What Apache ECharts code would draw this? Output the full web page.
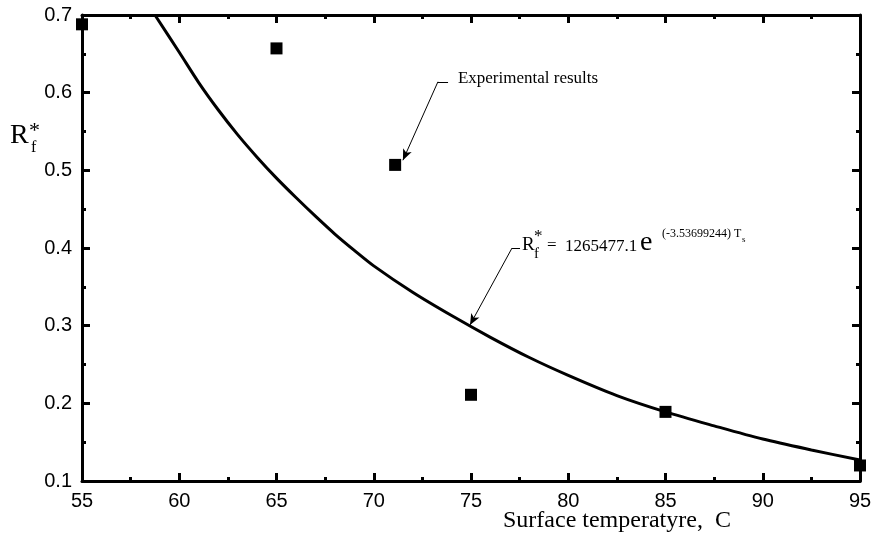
<!DOCTYPE html>
<html>
<head>
<meta charset="utf-8">
<script src="https://cdn.jsdelivr.net/npm/echarts@6/dist/echarts.min.js"></script>
<style>
  html, body { margin: 0; padding: 0; background: #fff; }
  #main { width: 877px; height: 552px; }
</style>
</head>
<body>
<div id="main"></div>
<script>
// experimental points
var expT = [55, 65, 71.1, 75, 85, 95];
var expR = [0.688, 0.657, 0.507, 0.211, 0.189, 0.12];

// fitted curve
var curveT = [58.75, 60, 61, 62, 63, 64, 65, 66, 67, 68, 69, 70, 72, 74, 76, 78, 80, 82.5, 85, 87.5, 90, 92.5, 95];
var curveR = [0.700, 0.652, 0.613, 0.578, 0.546, 0.517, 0.490, 0.465, 0.441, 0.418, 0.397, 0.377, 0.343, 0.313, 0.285, 0.259, 0.236, 0.210, 0.189, 0.171, 0.154, 0.140, 0.127];

// arrow anchors (data units): tail, elbow, tip
var expArrow = [[73.82, 0.614], [73.30, 0.614], [71.5, 0.513]];
var eqArrow = [[77.52, 0.400], [77.11, 0.400], [74.95, 0.301]];

var serif = 'Liberation Serif';
var sans = 'Liberation Sans';

function zip(a, b) {
  return a.map(function (v, i) { return [v, b[i]]; });
}

function arrowLines(pts) {
  return [
    [{ coord: pts[0], symbol: 'none' }, { coord: pts[1], symbol: 'none' }],
    [{ coord: pts[1], symbol: 'none' }, { coord: pts[2], symbol: 'arrow' }]
  ];
}

var axisCommon = {
  axisLine: { show: true, onZero: false, lineStyle: { color: '#000', width: 3 } },
  axisTick: { show: true, inside: true, length: 8, lineStyle: { color: '#000', width: 3 } },
  minorTick: { show: true, splitNumber: 2, length: 4, lineStyle: { color: '#000', width: 3 } },
  splitLine: { show: false }
};

function axis(extra) {
  return Object.assign({}, JSON.parse(JSON.stringify(axisCommon)), extra);
}

var chart = echarts.init(document.getElementById('main'));

var option = {
  animation: false,
  backgroundColor: '#fff',
  grid: { left: 82, right: 17, top: 15, bottom: 71 },
  xAxis: [
    axis({
      type: 'value', position: 'bottom', min: 55, max: 95, interval: 5,
      axisLabel: { show: true, color: '#000', fontFamily: sans, fontSize: 20, margin: 10 }
    }),
    axis({
      type: 'value', position: 'top', min: 55, max: 95, interval: 5,
      axisLabel: { show: false }
    })
  ],
  yAxis: [
    axis({
      type: 'value', position: 'left', min: 0.1, max: 0.7, interval: 0.1,
      axisLabel: {
        show: true, color: '#000', fontFamily: sans, fontSize: 20, margin: 10,
        formatter: function (v) { return v.toFixed(1); }
      }
    }),
    axis({
      type: 'value', position: 'right', min: 0.1, max: 0.7, interval: 0.1,
      axisLabel: { show: false }
    })
  ],
  series: [
    {
      type: 'line',
      data: zip(curveT, curveR),
      smooth: 0.3,
      showSymbol: false,
      symbol: 'none',
      clip: false,
      lineStyle: { color: '#000', width: 3 },
      z: 2
    },
    {
      type: 'scatter',
      data: zip(expT, expR),
      symbol: 'rect',
      symbolSize: 12,
      clip: false,
      itemStyle: { color: '#000', opacity: 1 },
      z: 3,
      markLine: {
        silent: true,
        symbolSize: [7, 11],
        label: { show: false },
        lineStyle: { color: '#000', width: 1, type: 'solid' },
        data: arrowLines(expArrow).concat(arrowLines(eqArrow))
      }
    }
  ]
};

chart.setOption(option);

// texts placed against the arrow elbows
var ep = chart.convertToPixel({ gridIndex: 0 }, expArrow[1]);
var qp = chart.convertToPixel({ gridIndex: 0 }, eqArrow[1]);

function txt(s, x, y, size, font) {
  return {
    type: 'text', x: x, y: y, silent: true,
    style: {
      text: s, fill: '#000', fontFamily: font || serif, fontSize: size,
      textAlign: 'left', textVerticalAlign: 'middle'
    }
  };
}

chart.setOption({
  graphic: [
    txt('Experimental results', ep[0] + 20, ep[1] - 3, 17),
    txt('R', qp[0] + 10, qp[1] - 3, 19),
    txt('*', qp[0] + 22, qp[1] - 11, 17),
    txt('f', qp[0] + 22, qp[1] + 6, 15),
    txt('=', qp[0] + 35, qp[1] - 2, 17),
    txt('1265477.1', qp[0] + 53, qp[1] - 1, 17),
    txt('e', qp[0] + 128, qp[1] - 5, 28),
    txt('(-3.53699244) T', qp[0] + 150, qp[1] - 14, 12),
    txt('s', qp[0] + 230, qp[1] - 8, 9),
    // y axis name
    txt('R', 10, 136, 28),
    txt('*', 29, 131, 22),
    txt('f', 31, 148, 16),
    // x axis name
    txt('Surface temperatyre,  C', 503, 521, 24)
  ]
});
</script>
</body>
</html>
